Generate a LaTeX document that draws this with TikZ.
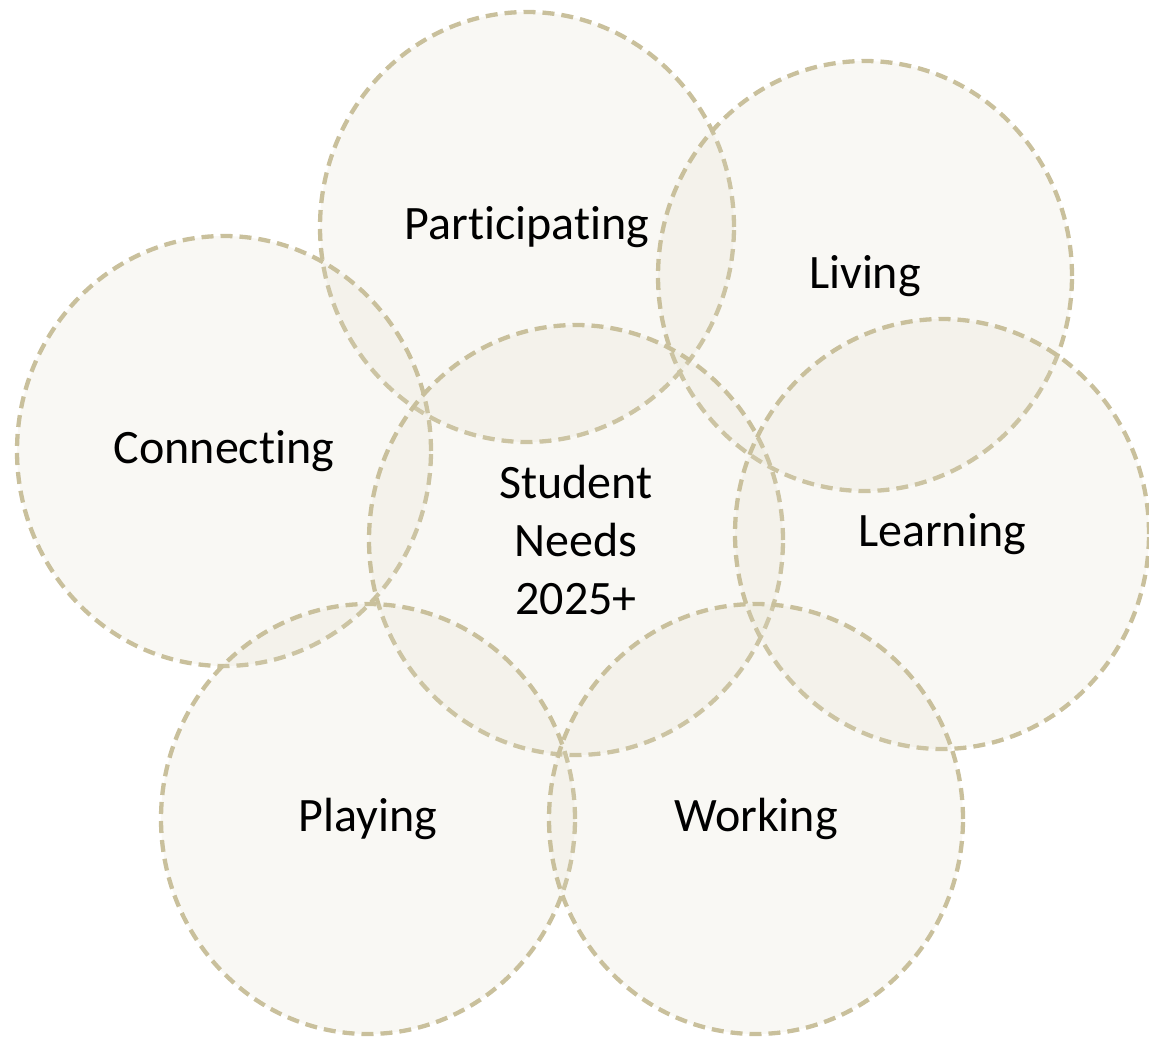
\documentclass[tikz,border=0pt]{standalone}
\usepackage{fontspec}
\setmainfont{Carlito}[Ligatures={NoCommon}]
\usepackage{xcolor}
\usepackage{tikz}
\usetikzlibrary{shapes.geometric}
\definecolor{ringline}{RGB}{201,192,156}
\definecolor{ringfill}{RGB}{221,217,195}

\begin{document}
\begin{tikzpicture}[
    x=1pt, y=-1pt,
    need/.style = {ellipse, minimum width=414pt, minimum height=430pt, inner sep=0pt,
                   draw=ringline, line width=4.3pt, dash pattern=on 12pt off 7pt,
                   fill=ringfill, fill opacity=0.18, text opacity=1,
                   align=center, font=\fontsize{48}{58}\selectfont}% ring style
    ]
    \useasboundingbox (0,0) rectangle (1149,1038);
    \node (part)  [need] at (527,227) {Participating};
    \node (live)  [need] at (865,276) {Living};
    \node (conn)  [need] at (224,451) {Connecting};
    \node (core)  [need] at (576,540) {Student\\Needs\\2025+};
    \node (learn) [need] at (942,534) {Learning};
    \node (play)  [need] at (368,819) {Playing};
    \node (work)  [need] at (756,819) {Working};
\end{tikzpicture}
\end{document}
